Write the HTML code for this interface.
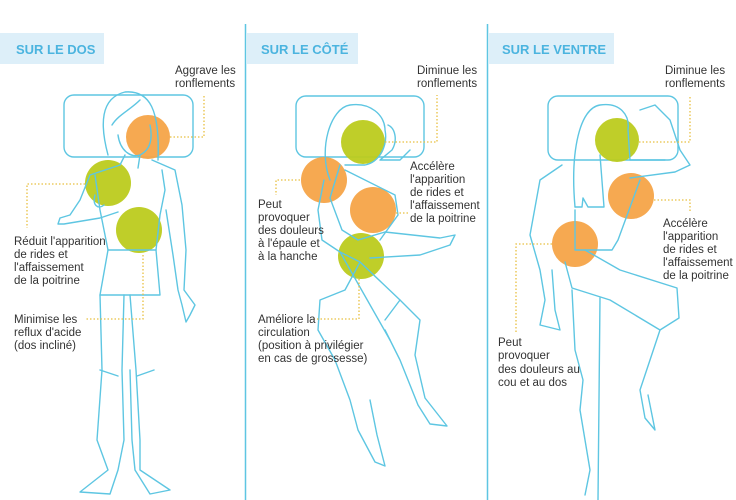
<!DOCTYPE html>
<html><head><meta charset="utf-8"><style>
html,body{margin:0;padding:0;background:#fff;}
svg{display:block}
text{font-family:"Liberation Sans",sans-serif;font-size:11.5px;fill:#333;}
.h{font-weight:bold;font-size:13px;fill:#4bb4df;}
.l{fill:none;stroke:#5ec6e2;stroke-width:1.4;stroke-linejoin:round;stroke-linecap:round}
.d{fill:none;stroke:#e8c040;stroke-width:1.3;stroke-dasharray:1.5 2}
.o{fill:#f5a448;opacity:.95}
.g{fill:#bccb1e;opacity:.95}
</style></head><body>
<svg width="736" height="500" viewBox="0 0 736 500">
<!-- dividers -->
<line x1="245.5" y1="24" x2="245.5" y2="500" stroke="#5ec6e2" stroke-width="1.5"/>
<line x1="487.5" y1="24" x2="487.5" y2="500" stroke="#5ec6e2" stroke-width="1.5"/>
<!-- headers -->
<rect x="0" y="33" width="104" height="31" fill="#ddeff9"/>
<text x="16" y="54" class="h">SUR LE DOS</text>
<rect x="247" y="33" width="111" height="31" fill="#ddeff9"/>
<text x="261" y="54" class="h">SUR LE CÔTÉ</text>
<rect x="489" y="33" width="125" height="31" fill="#ddeff9"/>
<text x="502" y="54" class="h">SUR LE VENTRE</text>

<!-- ===== Figure 1 ===== -->
<rect x="64" y="95" width="129" height="62" rx="10" class="l"/>
<circle cx="148" cy="137" r="22" class="o"/>
<circle cx="108" cy="183" r="23" class="g"/>
<circle cx="139" cy="230" r="23" class="g"/>
<path class="l" d="M108,155 C100,125 100,98 125,92 C150,90 160,110 158,160"/>
<path class="l" d="M112,125 C118,115 130,110 140,100"/>
<path class="l" d="M118,135 C120,150 130,158 140,155 C150,150 153,140 150,125"/>
<path class="l" d="M140,155 L138,168 M125,155 L120,165 L90,175 L80,200 L70,215 L60,218 L58,224 L64,224 L100,218 L118,212"/>
<path class="l" d="M152,160 L175,170 L182,205 L186,250 L184,290 L195,305 L190,315 L186,322 L182,305 L178,290 L173,255 L166,210"/>
<path class="l" d="M95,175 L100,210 L108,250 L100,295 L160,295 L156,250 L160,215 L165,190 L162,170"/>
<path class="l" d="M108,250 L156,250 M95,195 C92,205 98,210 104,205"/>
<path class="l" d="M100,295 L102,370 L97,440 L108,470 L80,492 L110,494 L118,470 L124,440 L122,370 L124,295"/>
<path class="l" d="M130,295 L136,370 L140,440 L140,470 L170,490 L150,494 L135,470 L132,440 L130,370"/>
<path class="l" d="M100,370 L118,376 M137,376 L154,370"/>
<path class="d" d="M170,137 H204 V95"/>
<path class="d" d="M85,184 H27 V228"/>
<path class="d" d="M143,255 V319 H86"/>
<text x="175" y="74">Aggrave les</text><text x="175" y="87">ronflements</text>
<text x="14" y="245">Réduit l'apparition</text><text x="14" y="258">de rides et</text><text x="14" y="271">l'affaissement</text><text x="14" y="284">de la poitrine</text>
<text x="14" y="323">Minimise les</text><text x="14" y="336">reflux d'acide</text><text x="14" y="349">(dos incliné)</text>

<!-- ===== Figure 2 ===== -->
<rect x="296" y="96" width="128" height="61" rx="10" class="l"/>
<circle cx="363" cy="142" r="22" class="g"/>
<circle cx="324" cy="180" r="23" class="o"/>
<circle cx="373" cy="210" r="23" class="o"/>
<circle cx="361" cy="256" r="23" class="g"/>
<path class="l" d="M330,180 C318,150 330,108 350,105 C370,102 385,115 385,130 C388,145 380,162 365,165 L345,165"/>
<path class="l" d="M388,125 C395,128 398,140 392,150 L380,160 L400,160 L410,150"/>
<path class="l" d="M324,180 L318,210 L322,240 L340,252 L360,262 L345,290 L320,300 L318,330 L335,360 L350,400 L358,430 L375,462 L385,466 L377,435 L370,400"/>
<path class="l" d="M340,165 L330,198 L342,230 L358,240 L385,232 L440,238 L455,235 L450,245 L420,255 L370,258"/>
<path class="l" d="M345,170 L395,195 L398,215 L380,240"/>
<path class="l" d="M360,262 L400,300 L420,320 L415,355 L425,398 L447,426 L430,424 L418,405 L400,360 L385,330"/>
<path class="l" d="M340,252 L390,340 M400,300 L385,320"/>
<path class="d" d="M385,142 H437 V95"/>
<path class="d" d="M300,180 H276 V195"/>
<path class="d" d="M396,213 H408"/>
<path class="d" d="M359,279 V319 H313"/>
<text x="417" y="74">Diminue les</text><text x="417" y="87">ronflements</text>
<text x="410" y="170">Accélère</text><text x="410" y="183">l'apparition</text><text x="410" y="196">de rides et</text><text x="410" y="209">l'affaissement</text><text x="410" y="222">de la poitrine</text>
<text x="258" y="208">Peut</text><text x="258" y="221">provoquer</text><text x="258" y="234">des douleurs</text><text x="258" y="247">à l'épaule et</text><text x="258" y="260">à la hanche</text>
<text x="258" y="323">Améliore la</text><text x="258" y="336">circulation</text><text x="258" y="349">(position à privilégier</text><text x="258" y="362">en cas de grossesse)</text>

<!-- ===== Figure 3 ===== -->
<rect x="548" y="96" width="130" height="64" rx="10" class="l"/>
<circle cx="617" cy="140" r="22" class="g"/>
<circle cx="631" cy="196" r="23" class="o"/>
<circle cx="575" cy="244" r="23" class="o"/>
<path class="l" d="M575,207 C570,150 580,108 600,105 C620,102 630,115 628,130 L630,160 L665,160"/>
<path class="l" d="M575,207 L582,207 L583,198 L588,207 L604,207 L600,155"/>
<path class="l" d="M640,110 L655,105 L670,120 L680,150 L690,165 L675,172 L630,178"/>
<path class="l" d="M562,165 L540,180 L530,235 L540,270 L545,300 L540,325 L560,330 L555,310 L552,270"/>
<path class="l" d="M575,210 L575,250 L585,250 L612,250 L618,240 L640,180"/>
<path class="l" d="M585,250 L620,270 L677,288 L679,318 L660,330 L650,360 L640,390 L645,418 L655,430 L648,395"/>
<path class="l" d="M565,262 L572,288 L610,300 L660,330"/>
<path class="l" d="M572,290 L575,350 L583,380 L580,410 L590,470 L585,495 M600,298 L598,500"/>
<path class="d" d="M639,142 H690 V95"/>
<path class="d" d="M654,200 H690 V212"/>
<path class="d" d="M552,244 H516 V333"/>
<text x="665" y="74">Diminue les</text><text x="665" y="87">ronflements</text>
<text x="663" y="227">Accélère</text><text x="663" y="240">l'apparition</text><text x="663" y="253">de rides et</text><text x="663" y="266">l'affaissement</text><text x="663" y="279">de la poitrine</text>
<text x="498" y="346">Peut</text><text x="498" y="359">provoquer</text><text x="498" y="373">des douleurs au</text><text x="498" y="386">cou et au dos</text>
</svg>
</body></html>
